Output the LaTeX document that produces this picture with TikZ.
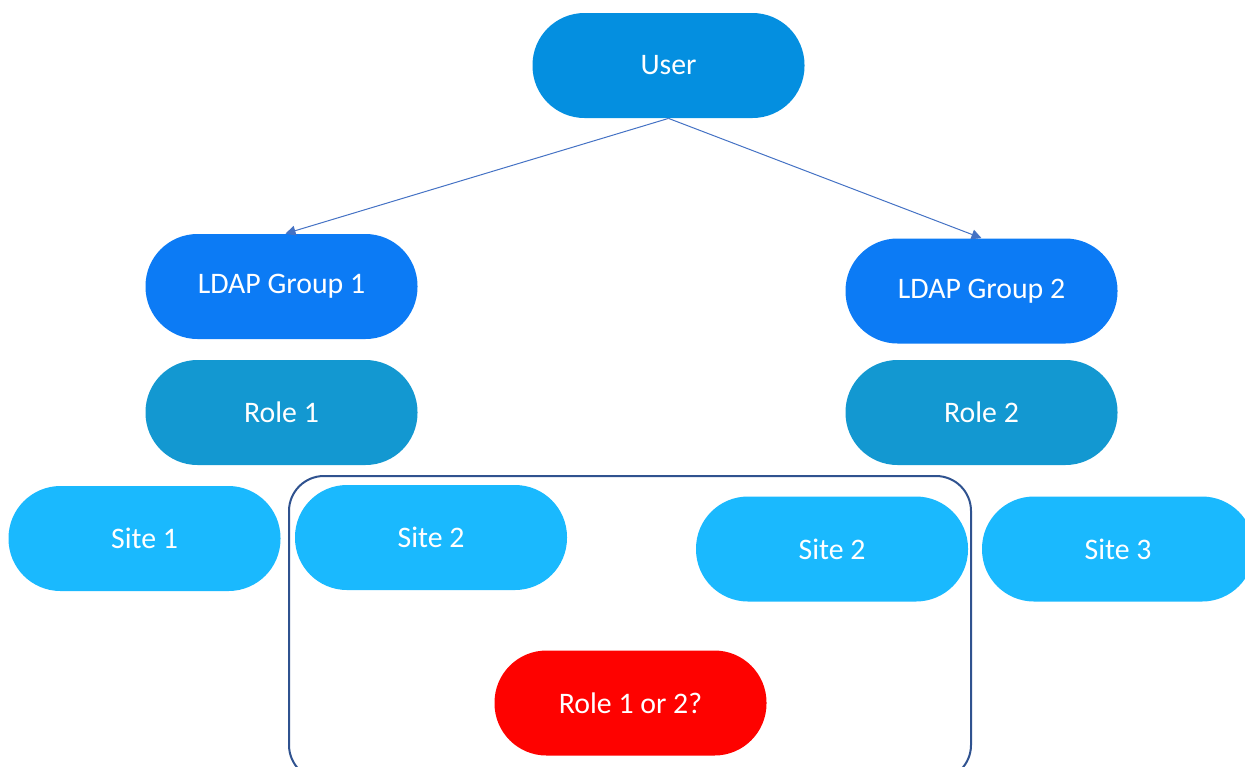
\documentclass[tikz,border=0pt]{standalone}
\usepackage{fontspec}
\setmainfont{Carlito}
\usetikzlibrary{arrows.meta}
\definecolor{userblue}{RGB}{4,143,224}
\definecolor{ldapblue}{RGB}{12,123,245}
\definecolor{roleblue}{RGB}{19,152,209}
\definecolor{siteblue}{RGB}{26,185,254}
\definecolor{redrole}{RGB}{254,2,0}
\definecolor{framecol}{RGB}{47,82,143}
\definecolor{arrowcol}{RGB}{68,114,196}
\tikzset{
  pill/.style={rectangle, rounded corners=26pt, minimum width=136pt, minimum height=52.5pt,
    inner sep=0pt, text=white, font=\fontsize{14.9}{18}\selectfont},
  userpill/.style={pill, fill=userblue},
  ldappill/.style={pill, fill=ldapblue},
  rolepill/.style={pill, fill=roleblue},
  sitepill/.style={pill, fill=siteblue},
  redpill/.style={pill, fill=redrole},
  conn/.style={draw=arrowcol, line width=0.5pt, -{Triangle[length=5pt,width=5pt]}},
  groupframe/.style={draw=framecol, line width=1pt, rounded corners=17.5pt, rectangle,
    minimum width=341pt, minimum height=152pt, inner sep=0pt}
}
\begin{document}
\begin{tikzpicture}[x=0.5pt,y=-0.5pt]
\useasboundingbox (0,0) rectangle (1245,766);
\clip (0,0) rectangle (1245,766);
\node[groupframe] (group) at (630,628) {};
\node[userpill] (user) at (668.5,65.5) {User};
\node[ldappill] (ldap1) at (281.5,286.5) {LDAP Group 1};
\node[ldappill] (ldap2) at (981.5,291) {LDAP Group 2};
\node[rolepill] (role1) at (281.5,412.5) {Role 1};
\node[rolepill] (role2) at (981.5,412.5) {Role 2};
\node[sitepill] (site1) at (144.5,538.5) {Site 1};
\node[sitepill] (site2a) at (431,537.5) {Site 2};
\node[sitepill] (site2b) at (832,549) {Site 2};
\node[sitepill] (site3) at (1118,549) {Site 3};
\node[redpill] (unk) at (630.5,703) {Role 1 or 2?};
\draw[conn] (user.south) -- ([xshift=2pt]ldap1.north);
\draw[conn] (user.south) -- (ldap2.north);
\end{tikzpicture}
\end{document}
